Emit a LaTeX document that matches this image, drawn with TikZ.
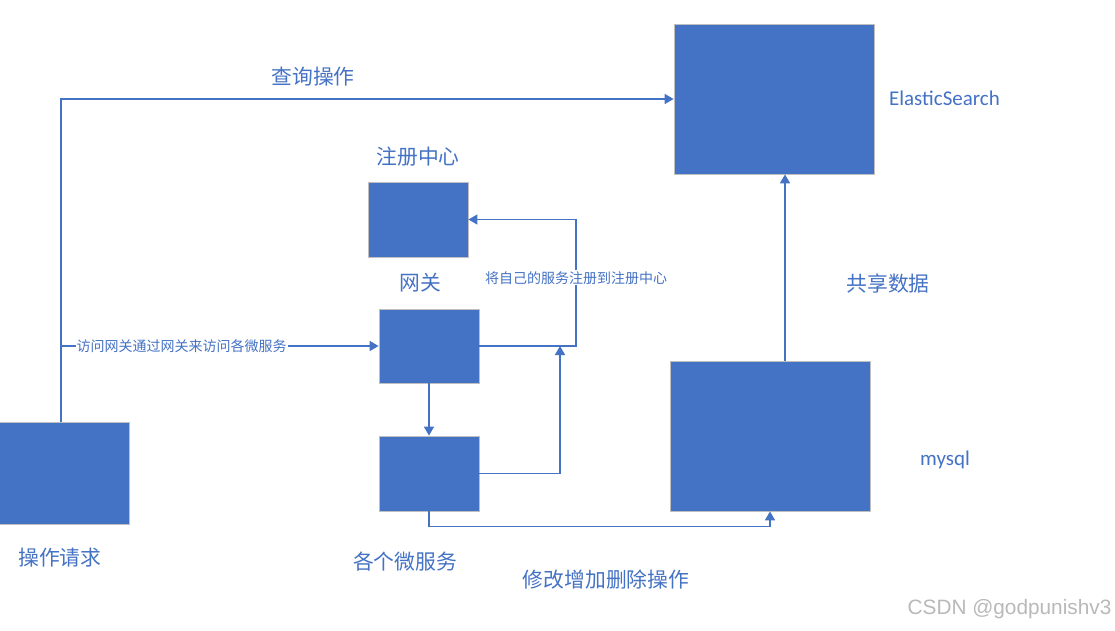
\documentclass[tikz,border=0pt]{standalone}
\usepackage{fontspec}
\setmainfont{Carlito}
\newfontfamily\cjk{Noto Sans CJK SC}
\newfontfamily\wmfont{Liberation Sans}
\usetikzlibrary{arrows.meta}
\definecolor{blu}{HTML}{4472C4}
\definecolor{bord}{HTML}{BFBFBF}
\tikzset{
  blk/.style={draw=bord, line width=0.8pt, fill=blu, inner sep=0pt},
  arr/.style={draw=blu, line width=1.6pt, -{Triangle[length=9pt,width=10pt]}},
  big/.style={text=blu, inner sep=0pt, font=\cjk\fontsize{20.8}{24}\selectfont},
  lat/.style={text=blu, inner sep=0pt, font=\fontsize{21}{24}\selectfont},
  small/.style={text=blu, fill=white, inner sep=1pt, font=\cjk\fontsize{14}{16}\selectfont},
}
\begin{document}
\begin{tikzpicture}[x=1pt,y=-1pt]
\useasboundingbox[fill=white] (0,0) rectangle (1115,630);
% boxes
\node[blk, minimum width=200pt, minimum height=150pt] (es) at (774,99) {};
\node[blk, minimum width=100pt, minimum height=75pt] (reg) at (418,219.5) {};
\node[blk, minimum width=100pt, minimum height=74pt] (gw) at (429,346) {};
\node[blk, minimum width=100pt, minimum height=75pt] (ms) at (429,473.5) {};
\node[blk, minimum width=200pt, minimum height=150pt] (my) at (770,436) {};
\node[blk, minimum width=131pt, minimum height=102pt] (req) at (63.5,473) {};
% coordinates
\coordinate (j) at (61,346);
\coordinate (c1) at (576,346);
\coordinate (c2) at (560,346);
% connectors
\draw[arr] ([xshift=-2.5pt]req.north) |- (es.west);
\draw[arr] (j) -- node[small, pos=0.38] {访问网关通过网关来访问各微服务} (gw.west);
\draw[arr] (gw.east) -- (c1) |- node[small, pos=0.27] {将自己的服务注册到注册中心} (reg.east);
\draw[arr] (ms.east) -| (c2);
\draw[arr] (gw.south) -- (ms.north);
\draw[arr] (ms.south) -- ++(0,15) -| (my.south);
\draw[arr] ([xshift=15pt]my.north) -- ([xshift=15pt]my.north |- es.south);
% labels
\node[big] (l1) at (313,77) {查询操作};
\node[big] (l2) at (418,157) {注册中心};
\node[big] (l3) at (420,283) {网关};
\node[big] (l4) at (60,558) {操作请求};
\node[big] (l5) at (405,562) {各个微服务};
\node[big] (l6) at (606,580) {修改增加删除操作};
\node[big] (l7) at (888,284) {共享数据};
\node[lat] (l8) at (944.5,98) {ElasticSearch};
\node[lat] (l9) at (945,460) {mysql};
\node[text=gray!55, inner sep=0pt, font=\wmfont\fontsize{20.8}{24}\selectfont] (wm) at (1009.5,609) {CSDN @godpunishv3};
\end{tikzpicture}
\end{document}
